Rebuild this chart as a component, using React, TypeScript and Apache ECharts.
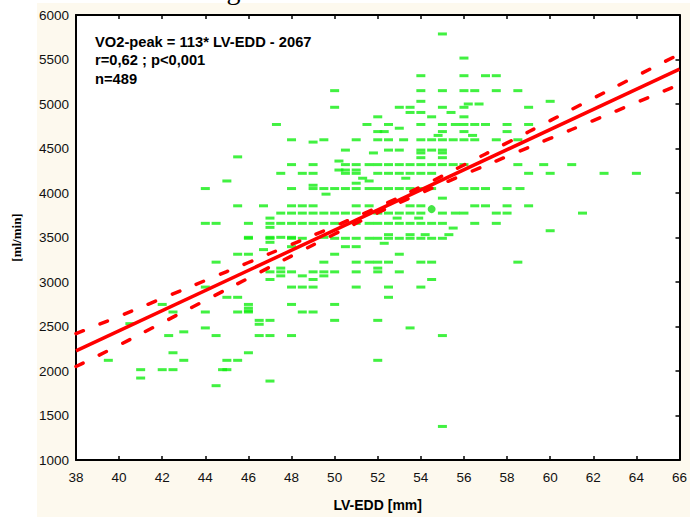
import React, { useEffect, useRef } from "react";
import * as echarts from "echarts";

// Axis ranges / ticks
const xMin = 38;
const xMax = 66;
const xStep = 2;
const yMin = 1000;
const yMax = 6000;
const yStep = 500;

// Scatter data: [VO2-peak (ml/min), LV-EDD values (mm)]
const scatterRows: [number, number[]][] = [
  [5787, [55]],
  [5516, [56]],
  [5318, [54, 56, 57, 57.5]],
  [5150, [50, 54, 55, 56, 56.5, 57.5, 58.5]],
  [5030, [54, 60]],
  [5000, [56.2, 56.7]],
  [4963, [50, 53, 53.5, 55, 56, 59]],
  [4905, [53.5, 54, 55.4]],
  [4856, [52, 54.5, 56]],
  [4770, [47.3, 51.5, 52.5, 54, 55, 55.6, 56, 56.5, 57, 58, 59]],
  [4728, [53]],
  [4690, [52, 52.3, 55, 56, 58]],
  [4647, [54.8, 56.4]],
  [4598, [48, 49.5, 51, 52, 52.5, 53.2, 54, 54.5, 55, 55.5, 56, 56.5, 57.5, 58.5]],
  [4572, [49]],
  [4482, [50.5, 52.5, 53, 54, 54.5, 55]],
  [4450, [51.8, 54, 55]],
  [4406, [45.5]],
  [4397, [54, 55]],
  [4359, [50.2]],
  [4319, [48, 49, 50.5, 51, 51.6, 52, 52.5, 53, 53.5, 54, 54.5, 55, 55.5, 56, 58.5, 59.7, 61]],
  [4258, [50.2, 50.5, 51]],
  [4221, [47.5, 48.5, 49, 50.5, 51, 52, 52.5, 53, 53.5, 54, 54.5, 59, 60, 62.5, 64]],
  [4166, [51.3, 53.3]],
  [4135, [45, 51.6]],
  [4110, [51]],
  [4087, [49]],
  [4050, [44, 48, 49, 49.5, 50, 50.5, 51, 51.6, 52, 52.5, 53, 53.5, 54, 54.5, 56, 56.5, 57, 58, 58.6]],
  [3987, [49.6]],
  [3942, [55]],
  [3856, [45.5, 46.7, 48, 48.5, 49, 51, 51.6, 53.5, 54, 56.5, 57, 58, 59]],
  [3774, [47.5, 48, 48.5, 49, 49.5, 50, 50.5, 51, 52, 52.5, 53, 53.5, 54, 55, 55.6, 56, 57.5, 58, 61.5]],
  [3718, [47, 52.9, 53.9]],
  [3659, [44, 44.5, 46, 47, 47.5, 48, 48.5, 49, 49.5, 50, 51, 51.6, 52, 52.5, 53, 53.5, 54, 54.5, 55, 56.5, 57.5]],
  [3614, [47]],
  [3606, [55.5]],
  [3576, [60]],
  [3532, [52.5, 53.5, 54.2, 55.3]],
  [3502, [46, 47, 47.5, 48, 49.5]],
  [3491, [46, 47, 48, 48.5, 50, 50.5, 51, 51.6, 52, 52.5, 53, 53.5, 54, 54.5, 55]],
  [3446, [47]],
  [3435, [52.3]],
  [3397, [48, 50.5, 51]],
  [3364, [46.7]],
  [3312, [45.5, 46, 50, 53]],
  [3223, [44.5, 49.5, 51, 51.6, 52, 52.5, 54, 54.5, 58.5]],
  [3156, [47.5, 52]],
  [3114, [47, 47.5, 48, 49, 49.5, 50, 51, 52, 53]],
  [3069, [47.5, 48.5, 49.5]],
  [3028, [47, 49, 54.5]],
  [2943, [44, 48, 48.5, 49, 51, 52.5, 54]],
  [2828, [45, 45.5, 52.5]],
  [2748, [42, 46, 48, 50]],
  [2707, [46]],
  [2675, [46]],
  [2663, [42.5, 44, 45.5, 46, 48.5, 49]],
  [2569, [46.5, 47, 50, 52]],
  [2532, [40.5]],
  [2525, [46.5]],
  [2484, [44, 53.5]],
  [2440, [43]],
  [2398, [42.3, 44.5, 46.5, 47, 48, 55]],
  [2205, [42.5, 46]],
  [2120, [39.5, 43, 45, 45.5, 52]],
  [2015, [41, 42, 42.5, 44.8, 45]],
  [1921, [41]],
  [1887, [47]],
  [1835, [44.5]],
  [1377, [55]],
];

// Mean point (larger green dot)
const meanPoint: [number, number] = [54.5, 3819];

// Regression line end points
const fitX = [38, 66];
const fitY = [2227, 5391];

// Confidence band values read at each even LV-EDD
const bandX = [38, 40, 42, 44, 46, 48, 50, 52, 54, 56, 58, 60, 62, 64, 66];
const bandUpper = [2420, 2615, 2816, 3017, 3219, 3422, 3627, 3840, 4071, 4315, 4563, 4813, 5064, 5314, 5560];
const bandLower = [2050, 2291, 2542, 2793, 3043, 3292, 3539, 3778, 3999, 4207, 4411, 4613, 4814, 5016, 5220];

const annotationLines = ["VO2-peak = 113* LV-EDD - 2067", "r=0,62 ; p<0,001", "n=489"];

const SANS = '"Liberation Sans", Arial, sans-serif';
const SERIF = '"Liberation Serif", "Times New Roman", serif';

export default function App() {
  const ref = useRef<HTMLDivElement>(null);

  useEffect(() => {
    if (!ref.current) return;
    const chart = echarts.init(ref.current, undefined, { renderer: "svg" });

    const points: [number, number][] = [];
    scatterRows.forEach(([y, xs]) => xs.forEach((x) => points.push([x, y])));

    const axisLineStyle = { show: true, lineStyle: { color: "#000", width: 2 } };
    const tickStyle = { show: true, inside: true, length: 4, lineStyle: { color: "#000", width: 1.5 } };

    const option: any = {
      animation: false,
      backgroundColor: "transparent",
      grid: { left: 76, right: 7, top: 15, bottom: 55, show: true, backgroundColor: "#ffffff", borderWidth: 0 },
      xAxis: [
        {
          type: "value",
          min: xMin,
          max: xMax,
          interval: xStep,
          position: "bottom",
          axisLine: axisLineStyle,
          axisTick: tickStyle,
          splitLine: { show: false },
          axisLabel: { color: "#111", fontSize: 13.5, fontFamily: SANS, margin: 10 },
          name: "LV-EDD [mm]",
          nameLocation: "middle",
          nameGap: 38,
          nameTextStyle: { color: "#000", fontSize: 14, fontWeight: "bold", fontFamily: SANS },
        },
        {
          type: "value",
          min: xMin,
          max: xMax,
          interval: xStep,
          position: "top",
          axisLine: axisLineStyle,
          axisTick: tickStyle,
          splitLine: { show: false },
          axisLabel: { show: false },
        },
      ],
      yAxis: [
        {
          type: "value",
          min: yMin,
          max: yMax,
          interval: yStep,
          position: "left",
          axisLine: axisLineStyle,
          axisTick: { show: false },
          splitLine: { show: false },
          axisLabel: {
            color: "#111",
            fontSize: 13.5,
            fontFamily: SANS,
            margin: 7,
            formatter: (v: number) => String(v),
          },
          name: "[ml/min]",
          nameLocation: "middle",
          nameGap: 53,
          nameRotate: 90,
          nameTextStyle: { color: "#000", fontSize: 13, fontWeight: "bold", fontFamily: SERIF },
        },
        {
          type: "value",
          min: yMin,
          max: yMax,
          interval: yStep,
          position: "right",
          axisLine: axisLineStyle,
          axisTick: tickStyle,
          splitLine: { show: false },
          axisLabel: { show: false },
        },
      ],
      graphic: [
        {
          type: "text",
          left: 130,
          top: -25,
          silent: true,
          style: { text: "according", font: `28px ${SERIF}`, fill: "#000" },
        },
        ...annotationLines.map((t, i) => ({
          type: "text",
          left: 95,
          top: 34 + i * 18.5,
          z: 100,
          silent: true,
          style: { text: t, font: `bold 14.7px ${SANS}`, fill: "#000" },
        })),
      ],
      series: [
        {
          type: "scatter",
          xAxisIndex: 0,
          yAxisIndex: 0,
          data: points,
          symbol: "rect",
          symbolSize: [9, 3],
          itemStyle: { color: "#12ee12" },
          z: 2,
        },
        {
          type: "scatter",
          xAxisIndex: 0,
          yAxisIndex: 0,
          data: [meanPoint],
          symbol: "circle",
          symbolSize: 8,
          itemStyle: { color: "#18e018" },
          z: 2,
        },
        {
          type: "line",
          xAxisIndex: 0,
          yAxisIndex: 0,
          data: fitX.map((x, i) => [x, fitY[i]]),
          showSymbol: false,
          lineStyle: { color: "#ff0000", width: 3.5 },
          z: 4,
        },
        {
          type: "line",
          xAxisIndex: 0,
          yAxisIndex: 0,
          data: bandX.map((x, i) => [x, bandUpper[i]]),
          showSymbol: false,
          smooth: true,
          lineStyle: { color: "#ff0000", width: 3.5, type: [8, 18], cap: "round" },
          z: 4,
        },
        {
          type: "line",
          xAxisIndex: 0,
          yAxisIndex: 0,
          data: bandX.map((x, i) => [x, bandLower[i]]),
          showSymbol: false,
          smooth: true,
          lineStyle: { color: "#ff0000", width: 3.5, type: [8, 18], cap: "round" },
          z: 4,
        },
      ],
    };

    chart.setOption(option);
    return () => chart.dispose();
  }, []);

  return (
    <div style={{ position: "absolute", left: 0, top: 0, width: 690, height: 517, background: "#ffffff", overflow: "hidden" }}>
      <div style={{ position: "absolute", left: 37, top: 3, width: 653, height: 514, background: "#fdf9ee" }} />
      <div ref={ref} style={{ position: "absolute", left: 0, top: 0, width: 690, height: 517 }} />
    </div>
  );
}
